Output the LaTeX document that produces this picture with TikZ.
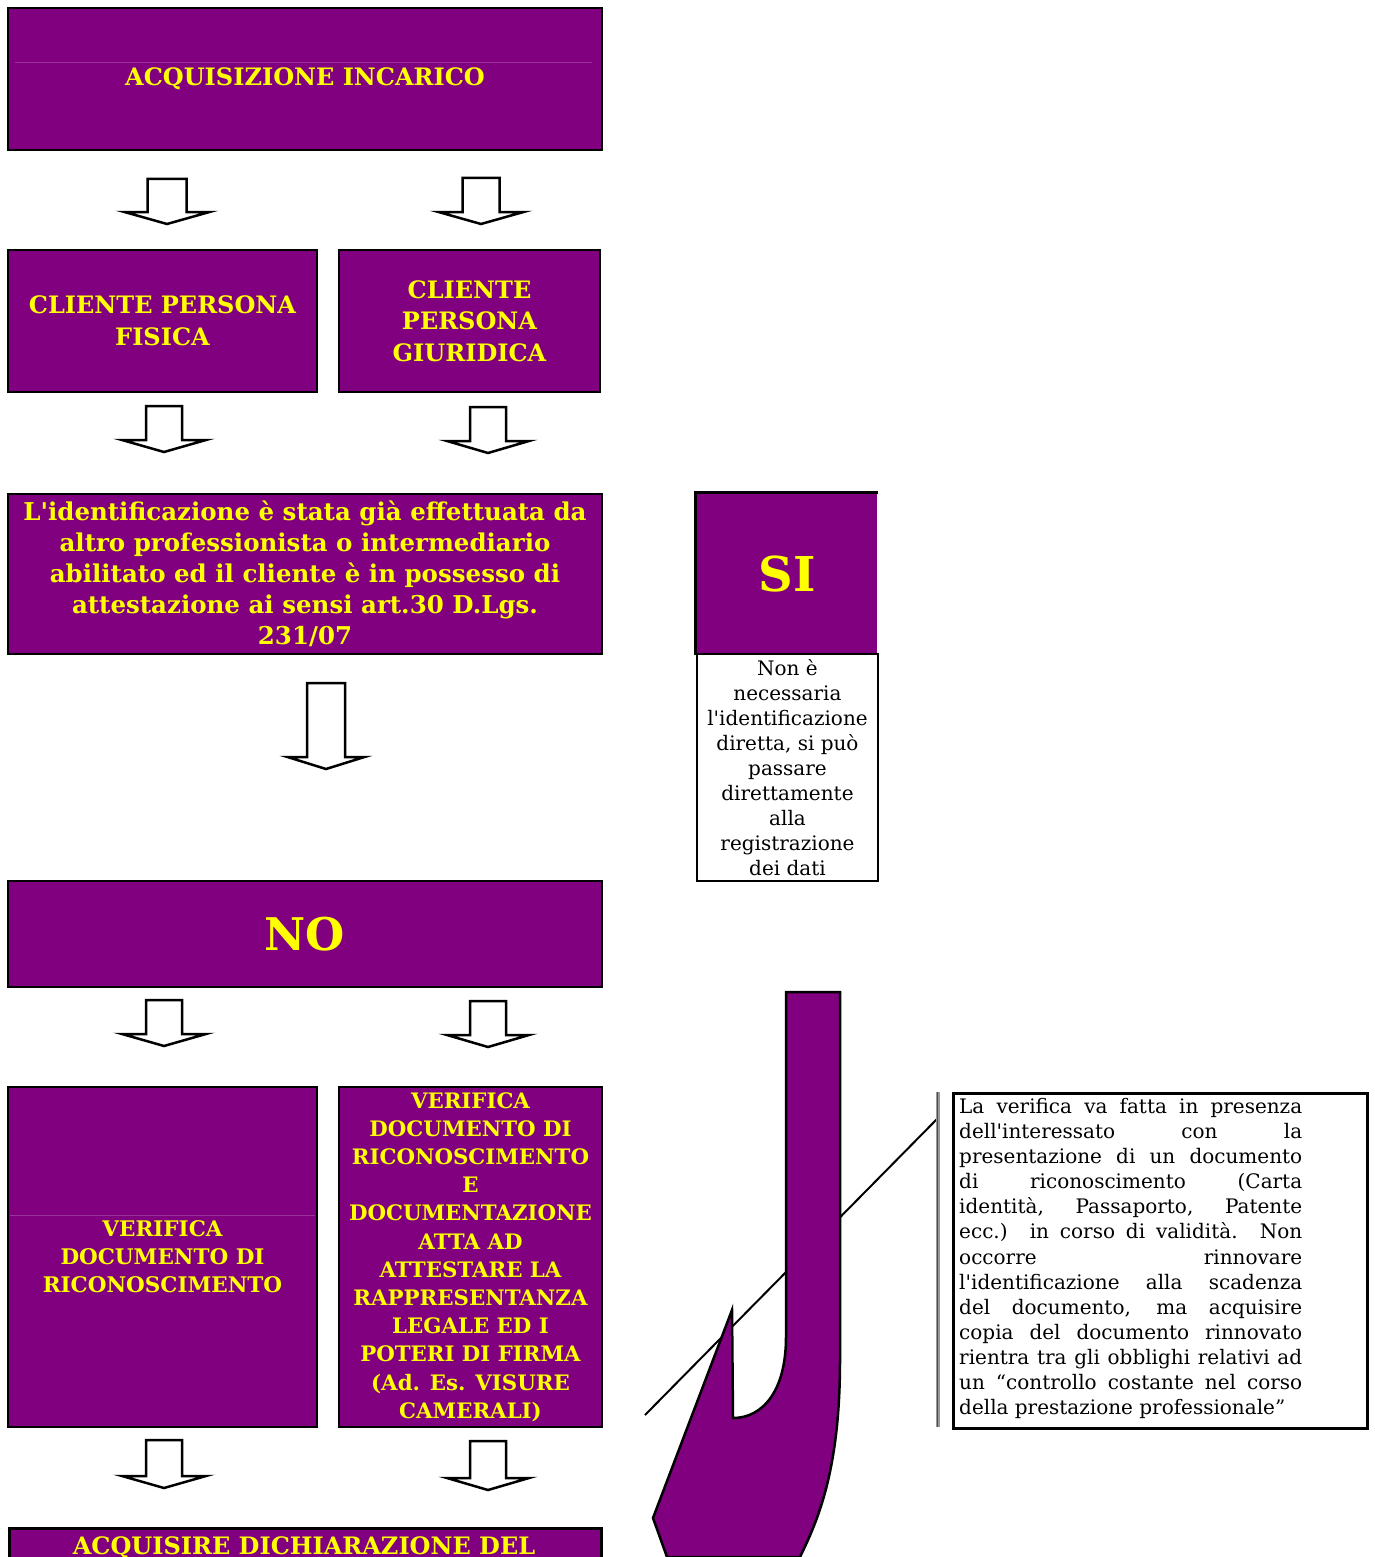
\documentclass[tikz,border=0pt]{standalone}
\usepackage{fontspec}
\setmainfont{DejaVu Serif}[Ligatures=TeXOff]
\usetikzlibrary{positioning}

\definecolor{boxpurple}{HTML}{800080}
\definecolor{boxyellow}{HTML}{FFFF00}

\tikzset{
    purplebox/.style={draw=black, line width=2.5pt, fill=boxpurple, text=boxyellow,
        font=\bfseries\fontsize{21.5}{28}\selectfont, align=center, inner sep=0pt},
    notebox/.style={draw=black, line width=2pt, fill=white,
        font=\fontsize{20}{25}\selectfont, align=center, inner sep=0pt},
    arrowline/.style={draw=black, line width=2.5pt, fill=white, line join=miter},
    faintline/.style={draw=boxpurple!80!white, line width=0.8pt}
}

% hollow block arrow: centre x, top, tip, half shaft, half head
\newcommand{\blockarrow}[5]{%
    \draw[arrowline] (#1-#4,#2) -- (#1+#4,#2) -- (#1+#4,#3-12) -- (#1+#5,#3-12)
        -- (#1,#3) -- (#1-#5,#3-12) -- (#1-#4,#3-12) -- cycle;}

\begin{document}
\begin{tikzpicture}[x=1pt, y=-1pt]
        \useasboundingbox[fill=white] (0,0) rectangle (1374,1557);

        \node[purplebox, minimum width=594, minimum height=142, font=\bfseries\fontsize{24}{32}\selectfont] (incarico) at (305,79) {ACQUISIZIONE INCARICO};
        \draw[faintline] (15,62) -- (592,62);

        \blockarrow{167}{179}{224}{19.5}{42.5}
        \blockarrow{481}{178}{224}{18.5}{42.5}

        \node[purplebox, minimum width=309, minimum height=142, font=\bfseries\fontsize{24}{32}\selectfont] (fisica) at (162.5,321) {CLIENTE PERSONA\\FISICA};
        \node[purplebox, minimum width=261, minimum height=142, font=\bfseries\fontsize{24}{31.5}\selectfont] (giuridica) at (469.5,321) {CLIENTE\\PERSONA\\GIURIDICA};

        \blockarrow{164}{406}{452}{18}{42}
        \blockarrow{488}{407}{453}{18}{41}

        \node[purplebox, minimum width=594, minimum height=160, font=\bfseries\fontsize{24.5}{31}\selectfont] (identificazione) at (305,574)
            {L'identificazione è stata già effettuata da\\altro professionista o intermediario\\abilitato ed il cliente è in possesso di\\attestazione ai sensi art.30 D.Lgs.\\231/07};

        \node[purplebox, draw=none, minimum width=180, minimum height=160, font=\bfseries\fontsize{48}{56}\selectfont] (si) at (787,574) {SI};
        \draw[line width=3pt] (si.south west) -- (si.north west) -- (si.north east);
        \node[notebox, minimum width=181, minimum height=227] (nonnecessaria) at (787.5,767.5)
            {Non è\\necessaria\\l'identificazione\\diretta, si può\\passare\\direttamente\\alla\\registrazione\\dei dati};

        \blockarrow{326}{683}{769}{19}{38.5}

        \node[purplebox, minimum width=594, minimum height=106, font=\bfseries\fontsize{45}{54}\selectfont] (no) at (305,934) {NO};

        \blockarrow{164}{1000}{1046}{18}{42}
        \blockarrow{488}{1001}{1047}{18}{41}

        \node[purplebox, minimum width=309, minimum height=340] (documento) at (162.5,1257) {VERIFICA\\DOCUMENTO DI\\RICONOSCIMENTO};
        \draw[faintline] (10,1215) -- (315,1215);
        \node[purplebox, minimum width=263, minimum height=340, font=\bfseries\fontsize{21.3}{28.2}\selectfont] (documentazione) at (470.5,1257)
            {VERIFICA\\DOCUMENTO DI\\RICONOSCIMENTO\\E\\DOCUMENTAZIONE\\ATTA AD\\ATTESTARE LA\\RAPPRESENTANZA\\LEGALE ED I\\POTERI DI FIRMA\\(Ad. Es. VISURE\\CAMERALI)};

        \blockarrow{164}{1440}{1488}{18}{42}
        \blockarrow{488}{1441}{1490}{18}{41}

        \node[purplebox, anchor=north west, minimum width=592, minimum height=70] (dichiarazione) at (8,1527) {};
        \node[text=boxyellow, font=\bfseries\fontsize{24}{32}\selectfont, anchor=base] (dichiarazionetesto) at (304,1554) {ACQUISIRE DICHIARAZIONE DEL};

        % callout with bent arrow
        \coordinate (lineend) at (645,1415);
        \coordinate (linestart) at (938,1118);
        \draw[line width=2pt] (lineend) -- (linestart);
        \draw[line width=2.5pt, fill=boxpurple, line join=miter]
            (786,992) -- (840,992) -- (840,1360) .. controls (840,1470) and (818,1520) .. (800,1557)
            -- (667,1557) -- (653,1518) -- (732,1310) -- (733,1418)
            .. controls (762,1418) and (786,1392) .. (786,1337) -- cycle;
        \draw[gray!80, line width=4pt] (938,1092) -- (938,1427);
        \draw[black!70, line width=1pt] (937,1092) -- (937,1427);

        \node[draw=black, line width=3pt, anchor=north west, minimum width=414, minimum height=335, inner sep=0pt] (verifica) at (952,1092) {};
        \node[anchor=north west, text width=343, align=justify, inner sep=0pt, font=\fontsize{20}{25.1}\selectfont] (verificatesto) at (959,1098)
            {La verifica va fatta in presenza\linebreak
            dell'interessato con la\linebreak
            presentazione di un documento\linebreak
            di riconoscimento (Carta\linebreak
            identità, Passaporto, Patente\linebreak
            ecc.) in corso di validità. Non\linebreak
            occorre rinnovare\linebreak
            l'identificazione alla scadenza\linebreak
            del documento, ma acquisire\linebreak
            copia del documento rinnovato\linebreak
            rientra tra gli obblighi relativi ad\linebreak
            un “controllo costante nel corso\linebreak
            della prestazione professionale”};
\end{tikzpicture}
\end{document}
